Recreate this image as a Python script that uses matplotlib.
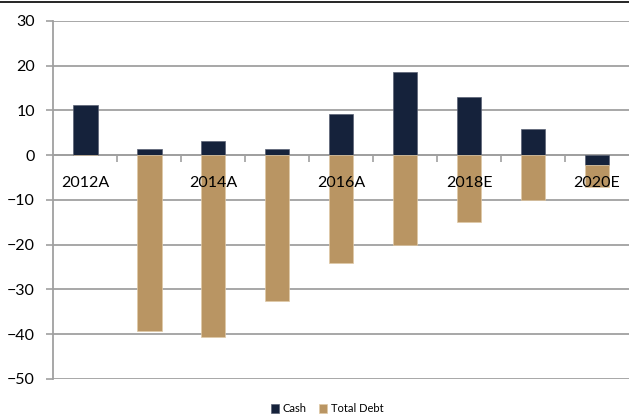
import matplotlib
matplotlib.use('Agg')
import matplotlib.pyplot as plt
from matplotlib.lines import Line2D
import numpy as np

years = ['2012A', '2013A', '2014A', '2015A', '2016A', '2017A', '2018E', '2019E', '2020E']
cash = [11.3, 1.5, 3.1, 1.5, 9.1, 18.7, 13.0, 5.8, -2.1]
total_debt = [0, -39.3, -40.6, -32.6, -24.1, -20.1, -15.0, -10.0, -5.0]

plt.rcParams['font.family'] = ['Lato', 'DejaVu Sans']

navy = '#15223b'
tan = '#b99563'
grid_col = '#a0a0a0'

fig = plt.figure(figsize=(6.29, 4.19), dpi=100)
ax = fig.add_axes([0.0843, 0.0955, 0.9157, 0.8545])

x = np.arange(len(years))
# negative values stack below negative cash (like Excel stacked columns)
debt_bottom = [c if c < 0 else 0 for c in cash]
ax.bar(x, cash, width=0.39, color=navy, edgecolor='#5a6274', linewidth=0.5,
       label='Cash', zorder=2)
ax.bar(x, total_debt, width=0.39, bottom=debt_bottom, color=tan,
       edgecolor='#e0c9a6', linewidth=0.5, label='Total Debt', zorder=2)

ax.set_xlim(-0.5, len(years) - 0.5)
ax.set_ylim(-50, 30)
ax.set_yticks(range(-50, 31, 10))
# gridlines behind the bars, axis (and its labels) in front
for v in range(-50, 31, 10):
    ax.axhline(v, color=grid_col, linewidth=1.3, zorder=1)
ax.set_axisbelow(False)
ax.tick_params(axis='y', length=5, width=1.2, color=grid_col, labelsize=11.5,
               pad=8)

for s in ['top', 'right']:
    ax.spines[s].set_visible(False)
ax.spines['left'].set_color(grid_col)
ax.spines['left'].set_linewidth(1.3)
ax.spines['bottom'].set_position(('data', 0))
ax.spines['bottom'].set_color(grid_col)
ax.spines['bottom'].set_linewidth(1.3)
ax.spines['bottom'].set_zorder(1.5)

# labels on every other year, tick marks between categories
ax.set_xticks(x)
ax.set_xticklabels([y if i % 2 == 0 else '' for i, y in enumerate(years)])
ax.set_xticks(np.arange(0.5, len(years) - 0.5, 1), minor=True)
ax.tick_params(axis='x', which='major', length=0, labelsize=11.5, pad=15)
ax.tick_params(axis='x', which='minor', length=5, width=1.2, color=grid_col)

fig.legend(loc='lower center', bbox_to_anchor=(0.52, -0.012), ncol=2,
           frameon=False, fontsize=8, handlelength=0.7, handleheight=0.9,
           handletextpad=0.3, columnspacing=1.2)

# black rule along the top of the figure
fig.add_artist(Line2D([0, 1], [0.995, 0.995], color='black', linewidth=1.2,
                      transform=fig.transFigure))

fig.savefig('out.png', dpi=100)
